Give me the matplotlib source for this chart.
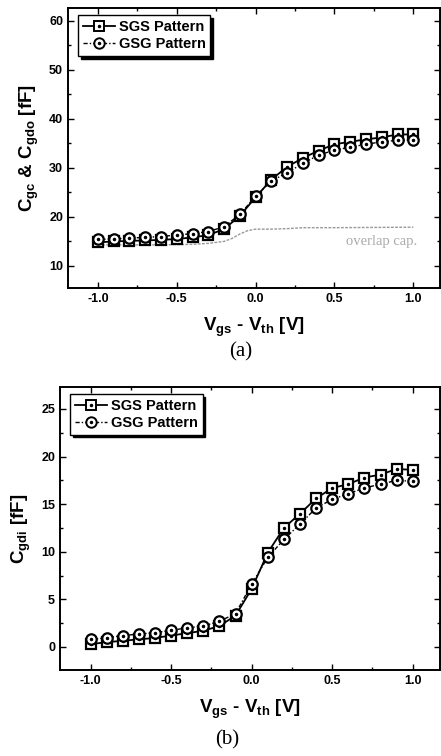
import numpy as np
import matplotlib.pyplot as plt
from matplotlib.lines import Line2D
from matplotlib.legend_handler import HandlerTuple
from matplotlib.ticker import MultipleLocator

plt.rcParams['font.family'] = 'Liberation Sans'
plt.rcParams['font.weight'] = 'bold'
plt.rcParams['axes.labelweight'] = 'bold'
plt.rcParams['mathtext.fontset'] = 'custom'
plt.rcParams['mathtext.bf'] = 'Liberation Sans:bold'
plt.rcParams['mathtext.rm'] = 'Liberation Sans:bold'
plt.rcParams['mathtext.default'] = 'bf'

# данные
vg = [-1.0, -0.9, -0.8, -0.7, -0.6, -0.5, -0.4, -0.3, -0.2, -0.1, 0.0,
      0.1, 0.2, 0.3, 0.4, 0.5, 0.6, 0.7, 0.8, 0.9, 1.0]

cgc_sgs = [14.8, 15.0, 15.1, 15.2, 15.3, 15.5, 15.8, 16.3, 17.5, 20.2, 24.0,
           27.6, 30.2, 32.0, 33.5, 34.8, 35.3, 35.8, 36.2, 36.8, 36.8]
cgc_gsg = [15.4, 15.5, 15.7, 15.8, 16.0, 16.3, 16.6, 17.0, 18.0, 20.5, 24.2,
           27.3, 29.0, 30.9, 32.6, 33.6, 34.2, 34.8, 35.3, 35.6, 35.6]

ov_x = [-1.0, -0.8, -0.6, -0.4, -0.3, -0.2, -0.15, -0.1, -0.05, 0.0, 0.1, 0.2, 0.3, 0.5, 1.0]
ov_cap = [14.3, 14.3, 14.3, 14.4, 14.6, 15.0, 15.6, 16.5, 17.2, 17.5, 17.5, 17.6, 17.8, 17.8, 17.9]

cgdi_sgs = [0.3, 0.5, 0.65, 0.8, 0.95, 1.2, 1.45, 1.7, 2.2, 3.3, 6.1,
            9.9, 12.5, 14.0, 15.6, 16.7, 17.1, 17.8, 18.1, 18.7, 18.6]
cgdi_gsg = [0.8, 0.95, 1.2, 1.35, 1.5, 1.75, 2.0, 2.2, 2.7, 3.5, 6.6,
            9.4, 11.3, 12.9, 14.6, 15.5, 16.1, 16.7, 17.1, 17.5, 17.4]

labels = ['SGS Pattern', 'GSG Pattern']

fig = plt.figure(figsize=(4.41, 7.56), dpi=100)
ax1 = fig.add_axes([0.154, 0.619, 0.844, 0.370])
ax2 = fig.add_axes([0.136, 0.114, 0.862, 0.374])

dash_dot = (0, (3, 1.5, 1, 1.5))


def draw(ax, y1, y2):
    ax.plot(vg, y1, '-', color='black', lw=1.3, marker='s', ms=7,
            mfc='white', mec='black', mew=1.6, zorder=3)
    ax.plot(vg, y1, ls='none', marker='.', ms=3, color='black', zorder=4)
    ax.plot(vg, y2, ls=dash_dot, color='black', lw=1.0, marker='o', ms=7.5,
            mfc='white', mec='black', mew=1.6, zorder=5)
    ax.plot(vg, y2, ls='none', marker='.', ms=3, color='black', zorder=6)

    h1 = (Line2D([], [], color='black', lw=1.3, marker='s', ms=7, mfc='white', mew=1.4),
          Line2D([], [], ls='none', marker='.', ms=3, color='black'))
    h2 = (Line2D([], [], color='black', lw=1.0, ls=dash_dot, marker='o', ms=7.5, mfc='white', mew=1.4),
          Line2D([], [], ls='none', marker='.', ms=3, color='black'))
    leg = ax.legend([h1, h2], labels, loc='upper left', fontsize=10.5,
                    handler_map={tuple: HandlerTuple(ndivide=1, pad=0)},
                    handlelength=2.2, handletextpad=0.3, borderpad=0.3,
                    labelspacing=0.25, fancybox=False, edgecolor='black',
                    framealpha=1, shadow={'color': 'black', 'alpha': 1},
                    bbox_to_anchor=(0.02, 0.985), borderaxespad=0.2)
    leg.get_frame().set_linewidth(1.0)

    ax.set_xlim(-1.19, 1.17)
    ax.xaxis.set_major_locator(MultipleLocator(0.5))
    ax.xaxis.set_minor_locator(MultipleLocator(0.25))
    ax.tick_params(which='both', direction='in', top=True, right=True,
                   labelsize=9, width=1.0)
    ax.tick_params(which='major', length=4)
    ax.tick_params(which='minor', length=2)
    ax.xaxis.set_major_formatter(plt.FormatStrFormatter('%.1f'))
    for s in ax.spines.values():
        s.set_linewidth(1.4)
    ax.set_xlabel(r'$V_{gs}$ - $V_{th}$ [V]', fontsize=13.5, labelpad=8)


draw(ax1, cgc_sgs, cgc_gsg)
ax1.plot(ov_x, ov_cap, color='#999999', lw=1.0, ls=(0, (2, 1)), zorder=2)
ax1.text(0.8, 15.0, 'overlap cap.', color='#aaaaaa', fontsize=10.5,
         family='Liberation Serif', fontweight='normal', ha='center', va='center')
ax1.set_ylim(5.5, 62.5)
ax1.yaxis.set_major_locator(MultipleLocator(10))
ax1.yaxis.set_minor_locator(MultipleLocator(5))
ax1.set_ylabel(r'$C_{gc}$ & $C_{gdo}$ [fF]', fontsize=13.5, labelpad=6)

draw(ax2, cgdi_sgs, cgdi_gsg)
ax2.set_ylim(-2.4, 27.3)
ax2.yaxis.set_major_locator(MultipleLocator(5))
ax2.yaxis.set_minor_locator(MultipleLocator(2.5))
ax2.set_ylabel(r'$C_{gdi}$ [fF]', fontsize=13.5, labelpad=6)

fig.text(0.545, 1 - 352 / 756, '(a)', family='Liberation Serif', fontweight='normal',
         fontsize=15, ha='center', va='center')
fig.text(0.515, 1 - 740 / 756, '(b)', family='Liberation Serif', fontweight='normal',
         fontsize=15, ha='center', va='center')

plt.savefig('out.png', dpi=100)
